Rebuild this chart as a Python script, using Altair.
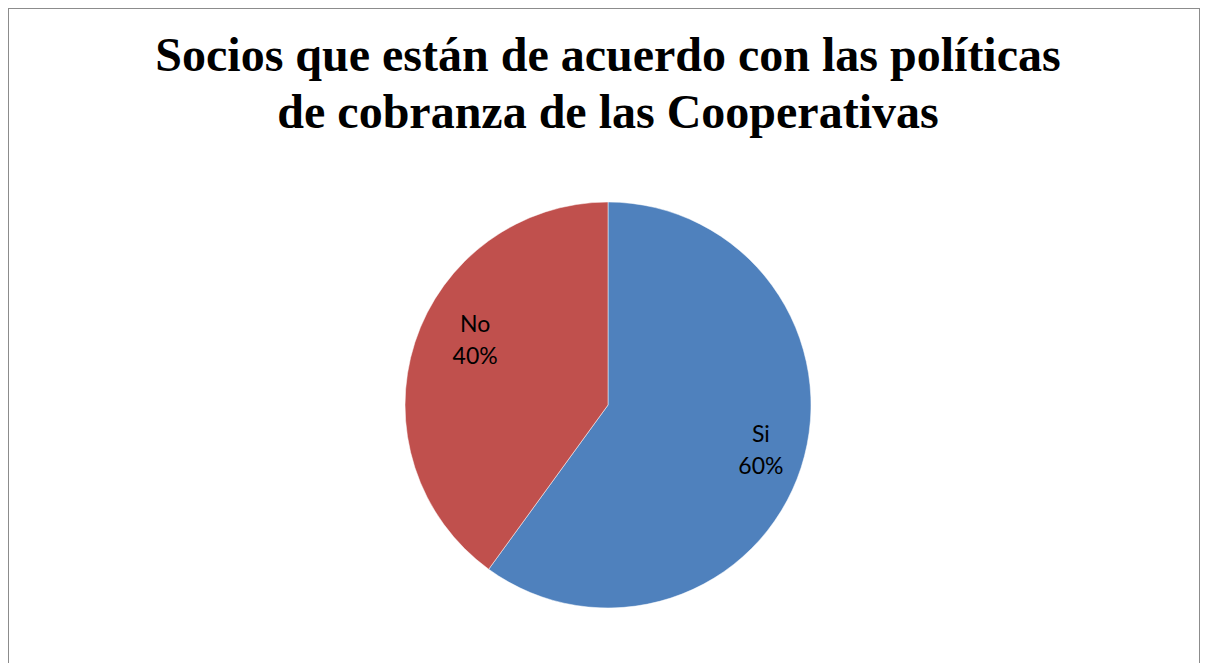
import altair as alt
import pandas as pd

categories = ["Si", "No"]
percentages = [60, 40]
order = [1, 2]
colors = ["#4F81BD", "#C0504D"]

labels = [f"{c}\n{p}%" for c, p in zip(categories, percentages)]
df = pd.DataFrame({"categoria": categories, "porcentaje": percentages,
                   "orden": order, "etiqueta": labels})

cx, cy, R = 600, 397, 203

base = alt.Chart(df).encode(
    theta=alt.Theta("porcentaje:Q", stack=True),
    order=alt.Order("orden:Q"),
    x=alt.value(cx),
    y=alt.value(cy),
)

pie = base.mark_arc(outerRadius=R, stroke="#ffffff", strokeWidth=0.5).encode(
    color=alt.Color("categoria:N", scale=alt.Scale(domain=categories, range=colors), legend=None)
)

text = base.mark_text(radius=153, thetaOffset=0.052, dx=10, dy=-25, font="Lato", fontSize=23,
                      color="#000000", lineBreak="\n", lineHeight=32, baseline="middle",
                      align="center").encode(
    text="etiqueta:N"
)

chart = alt.layer(pie, text).properties(
    width=1192,
    height=680,
    title=alt.TitleParams(
        text=["Socios que están de acuerdo con las políticas", "de cobranza de las Cooperativas"],
        font="Liberation Serif", fontSize=48, fontWeight="bold", color="#000000",
        anchor="middle", orient="top", offset=-178, lineHeight=57, baseline="bottom", dx=4,
    ),
    autosize=alt.AutoSizeParams(type="none"),
    padding=0,
).configure_view(stroke="#8c8c8c", strokeWidth=2)

chart.save("out.html", embed_options={"renderer": "svg", "actions": False})
